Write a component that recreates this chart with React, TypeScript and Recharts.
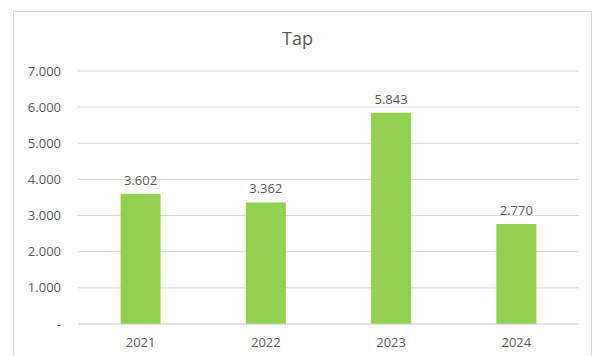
import { BarChart, Bar, XAxis, YAxis, CartesianGrid, LabelList } from 'recharts'

const years = ['2021', '2022', '2023', '2024']
const tapValues = [3602, 3362, 5843, 2770]
const yTicks = [0, 1000, 2000, 3000, 4000, 5000, 6000, 7000]

const data = years.map((year, i) => ({ year, tap: tapValues[i] }))

const fmt = (v: number) => (v === 0 ? '-' : v.toLocaleString('de-DE', { minimumFractionDigits: 0 }))

const font = '"Open Sans", "Noto Sans", sans-serif'

export default function App() {
  return (
    <div style={{ position: 'absolute', left: 0, top: 0, width: 595, height: 356, background: '#fff', overflow: 'hidden', fontFamily: font }}>
      <div style={{ position: 'absolute', left: 13, top: 11, width: 579, height: 360, border: '1px solid #d9d9d9', boxSizing: 'border-box' }} />
      <div style={{ position: 'absolute', left: 0, top: 26, width: 595, textAlign: 'center', fontSize: 18, color: '#595959' }}>Tap</div>
      <div style={{ position: 'absolute', left: 0, top: 0 }}>
        <BarChart width={595} height={356} data={data} margin={{ top: 71, right: 16, bottom: 0, left: 0 }} barCategoryGap="34%">
          <CartesianGrid vertical={false} stroke="#d9d9d9" />
          <XAxis dataKey="year" axisLine={{ stroke: '#d9d9d9' }} tickLine={false} height={32} tickMargin={8}
            tick={{ fill: '#595959', fontSize: 13, fontFamily: font }} />
          <YAxis domain={[0, 7000]} ticks={yTicks} width={78} axisLine={false} tickLine={false} tickMargin={11}
            tickFormatter={fmt} tick={{ fill: '#595959', fontSize: 13, fontFamily: font }} />
          <Bar dataKey="tap" fill="#92d050" isAnimationActive={false}>
            <LabelList dataKey="tap" position="top" offset={9} formatter={(v: any) => fmt(Number(v))}
              style={{ fill: '#595959', fontSize: 13, fontFamily: font }} />
          </Bar>
        </BarChart>
      </div>
    </div>
  )
}
